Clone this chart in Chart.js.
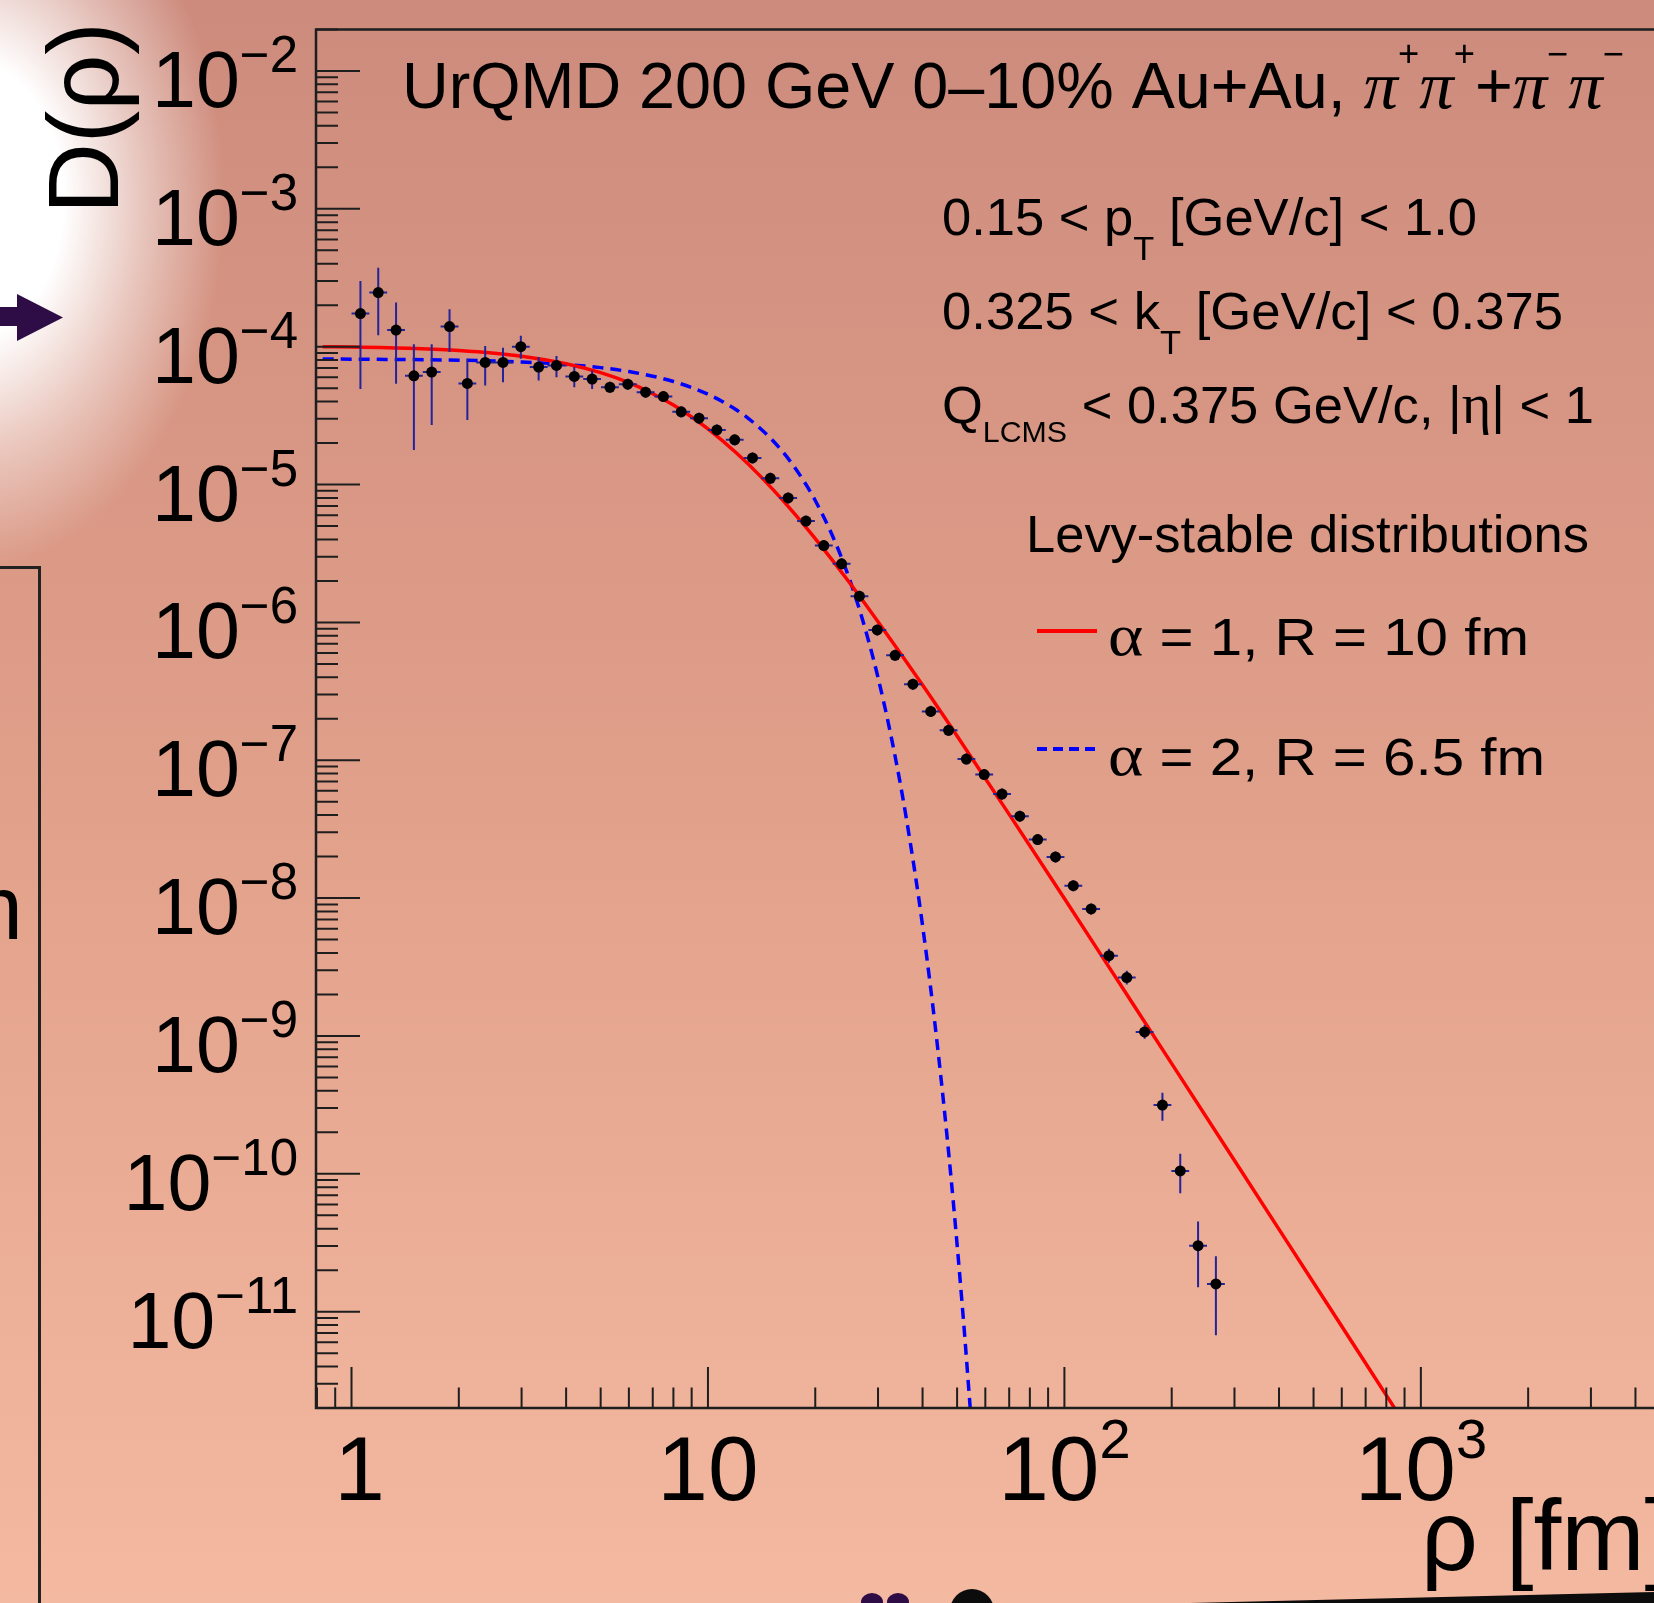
<!DOCTYPE html>
<html>
<head>
<meta charset="utf-8">
<script src="https://cdn.jsdelivr.net/npm/chart.js@4.4.1/dist/chart.umd.min.js"></script>
<style>
html, body { margin: 0; padding: 0; overflow: hidden; background: #e2a08a; }
#wrap { position: absolute; left: 0; top: 0; width: 1700px; height: 1603px; }
</style>
</head>
<body>
<div id="wrap"><canvas id="c"></canvas></div>
<script>
// UrQMD points: bin centres rho [fm], D(rho) and error band
const rho = [1.0593, 1.1885, 1.3335, 1.4962, 1.6788, 1.8836, 2.1135, 2.3714, 2.6607, 2.9854,
  3.3497, 3.7584, 4.2170, 4.7315, 5.3088, 5.9566, 6.6834, 7.4989, 8.4140, 9.4406,
  10.593, 11.885, 13.335, 14.962, 16.788, 18.836, 21.135, 23.714, 26.607, 29.854,
  33.497, 37.584, 42.170, 47.315, 53.088, 59.566, 66.834, 74.989, 84.140, 94.406,
  105.93, 118.85, 133.35, 149.62, 167.88, 188.36, 211.35, 237.14, 266.07];
const dRho = [1.74e-4, 2.47e-4, 1.32e-4, 6.15e-5, 6.55e-5, 1.40e-4, 5.41e-5, 7.69e-5, 7.69e-5, 1.00e-4,
  7.11e-5, 7.31e-5, 6.08e-5, 5.82e-5, 5.08e-5, 5.35e-5, 4.68e-5, 4.35e-5, 3.37e-5, 3.03e-5,
  2.49e-5, 2.11e-5, 1.56e-5, 1.11e-5, 8.0e-6, 5.43e-6, 3.61e-6, 2.66e-6, 1.55e-6, 8.81e-7,
  5.77e-7, 3.56e-7, 2.26e-7, 1.65e-7, 1.02e-7, 7.87e-8, 5.68e-8, 3.93e-8, 2.66e-8, 1.99e-8,
  1.23e-8, 8.34e-9, 3.82e-9, 2.65e-9, 1.07e-9, 3.15e-10, 1.05e-10, 3.01e-11, 1.59e-11];
const dHigh = [3.0e-4, 3.74e-4, 2.09e-4, 1.04e-4, 1.04e-4, 1.87e-4, 8.18e-5, 1.01e-4, 9.84e-5, 1.20e-4,
  8.41e-5, 8.55e-5, 7.11e-5, 6.73e-5, 5.57e-5, 5.86e-5, 5.13e-5, 4.77e-5, 3.69e-5, 3.32e-5,
  2.73e-5, 2.31e-5, 1.71e-5, 1.22e-5, 8.77e-6, 5.95e-6, 3.96e-6, 2.92e-6, 1.70e-6, 9.66e-7,
  6.32e-7, 3.90e-7, 2.48e-7, 1.81e-7, 1.12e-7, 8.63e-8, 6.23e-8, 4.31e-8, 2.92e-8, 2.18e-8,
  1.35e-8, 9.14e-9, 4.29e-9, 2.97e-9, 1.20e-9, 3.88e-10, 1.40e-10, 4.51e-11, 2.52e-11];
const dLow = [4.94e-5, 1.21e-4, 5.38e-5, 1.78e-5, 2.70e-5, 9.14e-5, 2.94e-5, 5.22e-5, 5.53e-5, 8.18e-5,
  5.69e-5, 6.01e-5, 5.08e-5, 4.94e-5, 4.63e-5, 4.88e-5, 4.27e-5, 3.97e-5, 3.07e-5, 2.76e-5,
  2.27e-5, 1.92e-5, 1.42e-5, 1.01e-5, 7.30e-6, 4.95e-6, 3.29e-6, 2.43e-6, 1.41e-6, 8.03e-7,
  5.26e-7, 3.25e-7, 2.06e-7, 1.50e-7, 9.30e-8, 7.18e-8, 5.18e-8, 3.58e-8, 2.43e-8, 1.81e-8,
  1.12e-8, 7.61e-9, 3.40e-9, 2.36e-9, 9.53e-10, 2.43e-10, 7.24e-11, 1.50e-11, 6.73e-12];

// Levy curves
const levy1Rho = [0.83, 1, 1.5, 2, 3, 4, 5, 6, 7, 8, 9, 10, 12, 14, 17, 20, 25, 30, 40, 50, 70, 100, 150, 200, 300, 500, 700, 850];
const levy1D = [9.99e-5, 9.93e-5, 9.69e-5, 9.37e-5, 8.53e-5, 7.53e-5, 6.48e-5, 5.48e-5, 4.56e-5, 3.77e-5, 3.09e-5, 2.53e-5,
  1.70e-5, 1.156e-5, 6.69e-6, 4.05e-6, 1.93e-6, 1.01e-6, 3.51e-7, 1.50e-7, 4.05e-8, 9.93e-9, 1.98e-9, 6.30e-10,
  1.25e-10, 1.62e-11, 4.22e-12, 1.94e-12];
const levy2Rho = [0.83, 1, 2, 3, 4, 5, 6, 7, 8, 9, 10, 11, 12, 13, 14, 15, 16, 17, 18, 19, 20, 22, 24, 26, 28, 30, 33, 36, 40, 44, 48, 52, 54.5];
const levy2D = [8.14e-5, 8.12e-5, 7.98e-5, 7.75e-5, 7.43e-5, 7.05e-5, 6.60e-5, 6.11e-5, 5.59e-5, 5.06e-5, 4.52e-5,
  3.99e-5, 3.49e-5, 3.01e-5, 2.56e-5, 2.16e-5, 1.80e-5, 1.48e-5, 1.20e-5, 9.65e-6, 7.66e-6, 4.66e-6, 2.71e-6,
  1.50e-6, 7.90e-7, 3.98e-7, 1.30e-7, 3.82e-8, 6.32e-9, 8.64e-10, 9.80e-11, 9.19e-12, 1.90e-12];

const xMajor = [1, 10, 100, 1000];
const xLabels = [['1', ''], ['10', ''], ['10', '2'], ['10', '3']];
const yMajorExp = [-2, -3, -4, -5, -6, -7, -8, -9, -10, -11];

const SANS = 'Liberation Sans';
const SERIF = 'Liberation Serif';
const INK = '#000';

function runsWidth(ctx, runs) {
  let w = 0;
  for (const r of runs) { ctx.font = r.f; w += ctx.measureText(r.t).width; }
  return w;
}
function drawRuns(ctx, runs, x, y, width, align) {
  const nat = runsWidth(ctx, runs);
  const sx = width ? width / nat : 1;
  ctx.save();
  ctx.translate(x, y);
  ctx.scale(sx, 1);
  let cx = 0;
  if (align === 'right') cx = -nat;
  else if (align === 'center') cx = -nat / 2;
  ctx.textAlign = 'left';
  ctx.textBaseline = 'alphabetic';
  ctx.fillStyle = INK;
  for (const r of runs) {
    ctx.font = r.f;
    ctx.fillText(r.t, cx, r.dy || 0);
    cx += ctx.measureText(r.t).width;
  }
  ctx.restore();
}

const bgPlugin = {
  id: 'bg',
  beforeDraw(chart) {
    const ctx = chart.ctx, W = chart.width, H = chart.height;
    const g = ctx.createLinearGradient(0, 0, 0, H);
    g.addColorStop(0, '#cd8b7d');
    g.addColorStop(0.5, '#e1a08a');
    g.addColorStop(1, '#f4b9a1');
    ctx.fillStyle = g;
    ctx.fillRect(0, 0, W, H);

    // white glow top left
    ctx.save();
    ctx.translate(-35, 200);
    ctx.scale(1, 370 / 260);
    const rg = ctx.createRadialGradient(0, 0, 0, 0, 0, 260);
    rg.addColorStop(0, 'rgba(255,255,255,1)');
    rg.addColorStop(0.38, 'rgba(255,255,255,1)');
    rg.addColorStop(0.7, 'rgba(255,255,255,0.45)');
    rg.addColorStop(1, 'rgba(255,255,255,0)');
    ctx.fillStyle = rg;
    ctx.beginPath(); ctx.arc(0, 0, 260, 0, Math.PI * 2); ctx.fill();
    ctx.restore();

    // leftovers of the slide
    ctx.fillStyle = '#2e0d47';
    ctx.fillRect(0, 307, 18, 19);
    ctx.beginPath(); ctx.moveTo(17, 294); ctx.lineTo(63, 317.5); ctx.lineTo(17, 341); ctx.closePath(); ctx.fill();

    ctx.strokeStyle = '#222';
    ctx.lineWidth = 3;
    ctx.beginPath(); ctx.moveTo(0, 567.5); ctx.lineTo(39.5, 567.5); ctx.lineTo(39.5, H); ctx.stroke();
    ctx.fillStyle = INK;
    ctx.font = '90px ' + SANS;
    ctx.textAlign = 'right';
    ctx.fillText('fm', 23, 939);

    ctx.fillStyle = '#2e0d47';
    ctx.beginPath(); ctx.ellipse(872, 1602, 11, 9, 0, 0, Math.PI * 2); ctx.fill();
    ctx.beginPath(); ctx.ellipse(898, 1602, 11, 9, 0, 0, Math.PI * 2); ctx.fill();
    ctx.fillStyle = '#0c0c0c';
    ctx.beginPath(); ctx.ellipse(972, 1611, 22, 22, 0, 0, Math.PI * 2); ctx.fill();
    ctx.beginPath(); ctx.moveTo(1190, H); ctx.lineTo(1654, 1592); ctx.lineTo(1654, H); ctx.closePath(); ctx.fill();
  }
};

const errPlugin = {
  id: 'errbars',
  beforeDatasetDraw(chart, args) {
    if (args.index !== 0) return;
    const ctx = chart.ctx, xs = chart.scales.x, ys = chart.scales.y;
    ctx.save();
    ctx.strokeStyle = '#23239a';
    ctx.lineWidth = 2;
    ctx.beginPath();
    for (let i = 0; i < rho.length; i++) {
      const px = xs.getPixelForValue(rho[i]);
      const nb = i < rho.length - 1 ? xs.getPixelForValue(rho[i + 1]) : 2 * px - xs.getPixelForValue(rho[i - 1]);
      const half = (nb - px) / 2;
      const py = ys.getPixelForValue(dRho[i]);
      ctx.moveTo(px, ys.getPixelForValue(dHigh[i]));
      ctx.lineTo(px, ys.getPixelForValue(dLow[i]));
      ctx.moveTo(px - half, py);
      ctx.lineTo(px + half, py);
    }
    ctx.stroke();
    ctx.restore();
  }
};

const axesPlugin = {
  id: 'rootaxes',
  afterDraw(chart) {
    const ctx = chart.ctx, xs = chart.scales.x, ys = chart.scales.y;
    const a = chart.chartArea;
    ctx.save();
    ctx.strokeStyle = '#1e1e1e';
    ctx.lineWidth = 2.5;
    ctx.beginPath();
    ctx.moveTo(chart.width, a.top); ctx.lineTo(a.left, a.top);
    ctx.lineTo(a.left, a.bottom); ctx.lineTo(chart.width, a.bottom);
    ctx.stroke();

    // y ticks
    ctx.lineWidth = 2;
    ctx.beginPath();
    for (let e = -12; e <= -2; e++) {
      for (let m = 1; m <= 9; m++) {
        const v = m * Math.pow(10, e);
        if (v < ys.min * 0.999 || v > ys.max * 1.001) continue;
        const py = ys.getPixelForValue(v);
        ctx.moveTo(a.left, py); ctx.lineTo(a.left + (m === 1 ? 44 : 22), py);
      }
    }
    // x ticks
    for (let e = -1; e <= 3; e++) {
      for (let m = 1; m <= 9; m++) {
        const v = m * Math.pow(10, e);
        if (v < xs.min || v > xs.max) continue;
        const px = xs.getPixelForValue(v);
        ctx.moveTo(px, a.bottom); ctx.lineTo(px, a.bottom - (m === 1 ? 41 : 20.5));
      }
    }
    ctx.stroke();

    // y labels
    ctx.fillStyle = INK;
    for (const e of yMajorExp) {
      const py = ys.getPixelForValue(Math.pow(10, e));
      const sup = '\u2212' + String(-e);
      ctx.font = '51px ' + SANS;
      const sw = ctx.measureText(sup).width;
      ctx.textAlign = 'left';
      ctx.fillText(sup, 298 - sw, py + 1);
      ctx.font = '79px ' + SANS;
      ctx.textAlign = 'right';
      ctx.fillText('10', 298 - sw, py + 36);
    }
    // x labels
    xMajor.forEach((v, i) => {
      const px = xs.getPixelForValue(v);
      const [base, sup] = xLabels[i];
      const runs = [{ t: base, f: '91px ' + SANS }];
      if (sup) runs.push({ t: sup, f: '56px ' + SANS, dy: -42 });
      drawRuns(ctx, runs, px + (i === 0 ? 8 : 0), 1500, 0, 'center');
    });

    // axis titles
    ctx.save();
    ctx.translate(118, 214);
    ctx.rotate(-Math.PI / 2);
    drawRuns(ctx, [{ t: 'D(\u03c1)', f: '100px ' + SANS }], 0, 0, 192);
    ctx.restore();
    drawRuns(ctx, [{ t: '\u03c1 [fm]', f: '100px ' + SANS }], 1421, 1570);

    // title
    const pi = { t: '\u03c0', f: 'italic 68px ' + SERIF };
    const sp = (s) => ({ t: s, f: '36px ' + SANS, dy: -42 });
    drawRuns(ctx, [
      { t: 'UrQMD 200 GeV 0\u201310% Au+Au, ', f: '64px ' + SANS },
      pi, sp('+'), pi, sp('+'), { t: '+', f: '64px ' + SANS }, pi, sp('\u2212'), pi, sp('\u2212')
    ], 402, 108, 1222);

    // cut annotations
    const F = '52px ' + SANS, FS = '34px ' + SANS;
    drawRuns(ctx, [{ t: '0.15 < p', f: F }, { t: 'T', f: FS, dy: 25 }, { t: ' [GeV/c] < 1.0', f: F }], 942, 235, 535);
    drawRuns(ctx, [{ t: '0.325 < k', f: F }, { t: 'T', f: FS, dy: 25 }, { t: ' [GeV/c] < 0.375', f: F }], 942, 329, 621);
    drawRuns(ctx, [{ t: 'Q', f: F }, { t: 'LCMS', f: '30px ' + SANS, dy: 19 }, { t: ' < 0.375 GeV/c, |', f: F },
      { t: '\u03b7', f: '56px ' + SERIF }, { t: '| < 1', f: F }], 942, 423, 652);
    drawRuns(ctx, [{ t: 'Levy-stable distributions', f: F }], 1026, 552, 563);

    // legend
    ctx.lineWidth = 4;
    ctx.strokeStyle = '#ff0000';
    ctx.beginPath(); ctx.moveTo(1037, 631); ctx.lineTo(1097, 631); ctx.stroke();
    ctx.strokeStyle = '#0000ff';
    ctx.setLineDash([10, 6]);
    ctx.beginPath(); ctx.moveTo(1037, 749); ctx.lineTo(1097, 749); ctx.stroke();
    ctx.setLineDash([]);
    const al = { t: '\u03b1', f: '60px ' + SERIF };
    drawRuns(ctx, [al, { t: ' = 1, R = 10 fm', f: F }], 1108, 655, 421);
    drawRuns(ctx, [al, { t: ' = 2, R = 6.5 fm', f: F }], 1108, 775, 437);
    ctx.restore();
  }
};

const pts = (xa, ya) => xa.map((x, i) => ({ x: x, y: ya[i] }));

new Chart(document.getElementById('c'), {
  type: 'scatter',
  data: {
    datasets: [
      {
        label: 'UrQMD',
        data: pts(rho, dRho),
        pointRadius: 5.5,
        pointBackgroundColor: '#000',
        pointBorderWidth: 0,
        showLine: false
      },
      {
        label: 'alpha = 1, R = 10 fm',
        data: pts(levy1Rho, levy1D),
        showLine: true,
        borderColor: '#ff0000',
        borderWidth: 3.5,
        pointRadius: 0,
        cubicInterpolationMode: 'monotone'
      },
      {
        label: 'alpha = 2, R = 6.5 fm',
        data: pts(levy2Rho, levy2D),
        showLine: true,
        borderColor: '#0000ff',
        borderWidth: 3.5,
        borderDash: [11, 7],
        pointRadius: 0,
        cubicInterpolationMode: 'monotone'
      }
    ]
  },
  options: {
    responsive: true,
    maintainAspectRatio: false,
    animation: false,
    devicePixelRatio: 1,
    layout: { padding: { left: 316, top: 29.5, right: 30, bottom: 195 } },
    scales: {
      x: { type: 'logarithmic', min: 0.795, max: 5000, bounds: 'data', display: false },
      y: { type: 'logarithmic', min: 2e-12, max: 2e-2, bounds: 'data', display: false }
    },
    plugins: { legend: { display: false }, tooltip: { enabled: false } }
  },
  plugins: [bgPlugin, errPlugin, axesPlugin]
});
</script>
</body>
</html>
